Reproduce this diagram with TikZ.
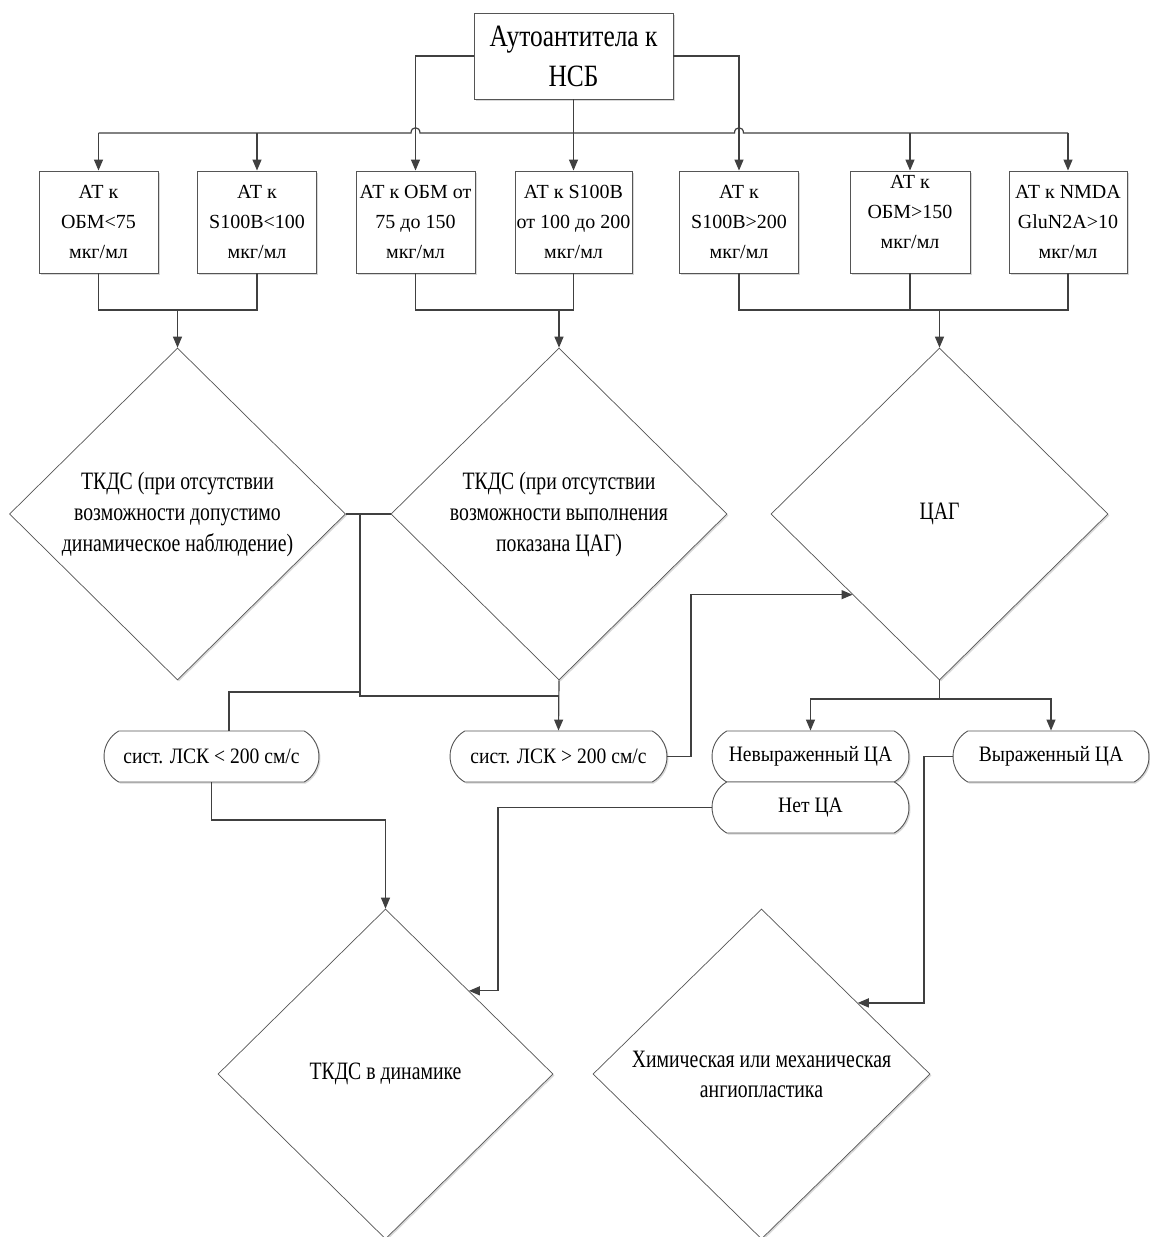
\documentclass[tikz,border=0pt]{standalone}
\usepackage{fontspec}
\setmainfont{Liberation Serif}
\newfontfamily\condA[FakeStretch=0.82]{Liberation Serif}
\newfontfamily\condB[FakeStretch=0.79]{Liberation Serif}
\newfontfamily\condC[FakeStretch=0.89]{Liberation Serif}
\usetikzlibrary{shapes.geometric,shapes.misc,arrows.meta,calc,shadows}
\definecolor{lc}{HTML}{404040}
\definecolor{bd}{HTML}{555555}
\begin{document}
\begin{tikzpicture}[x=1pt,y=-1pt,
  shd/.style={drop shadow={shadow xshift=1.5pt,shadow yshift=-1.5pt,opacity=0.25,fill=black!60}},
  abox/.style={draw=bd,line width=0.9pt,fill=white,rectangle,minimum width=119pt,minimum height=102pt,inner sep=0pt,align=center,font=\fontsize{20pt}{30pt}\selectfont,shd},
  dmd/.style={draw=bd,line width=0.7pt,fill=white,diamond,inner sep=0pt,align=center,font=\condB\fontsize{25pt}{31pt}\selectfont,shd},
  pill/.style={draw=bd,line width=0.9pt,fill=white,rounded rectangle,rounded rectangle arc length=120,minimum height=51pt,inner sep=0pt,font=\condC\fontsize{22pt}{26pt}\selectfont,shd},
  ln/.style={draw=lc,line width=1.2pt},
  conn/.style={ln,-{Triangle[length=11pt,width=9pt]}}]
\useasboundingbox[fill=white] (0,0) rectangle (1150,1237);

% nodes
\node[abox,minimum width=199pt,minimum height=86pt,font=\condA\fontsize{31pt}{40pt}\selectfont] (top) at (573.5,56) {Аутоантитела к\\НСБ};
\node[abox] (b1) at (98.5,222) {АТ к\\ОБМ<75\\мкг/мл};
\node[abox] (b2) at (257,222) {АТ к\\S100B<100\\мкг/мл};
\node[abox] (b3) at (415.5,222) {АТ к ОБМ от\\75 до 150\\мкг/мл};
\node[abox,minimum width=117pt] (b4) at (573.5,222) {АТ к S100B\\от 100 до 200\\мкг/мл};
\node[abox] (b5) at (739,222) {АТ к\\S100B>200\\мкг/мл};
\node[abox,minimum width=120pt] (b6) at (910,222) {};
\node[align=center,font=\fontsize{20pt}{30pt}\selectfont] (b6t) at (910,212) {АТ к\\ОБМ>150\\мкг/мл};
\node[abox,minimum width=118pt] (b7) at (1068,222) {АТ к NMDA\\GluN2A>10\\мкг/мл};

\node[dmd,minimum width=336pt,minimum height=332pt] (d1) at (177.5,514) {ТКДС (при отсутствии\\возможности допустимо\\динамическое наблюдение)};
\node[dmd,minimum width=336pt,minimum height=332pt] (d2) at (559,514) {ТКДС (при отсутствии\\возможности выполнения\\показана ЦАГ)};
\node[dmd,minimum width=337pt,minimum height=332pt] (d3) at (939.5,514) {ЦАГ};
\node[dmd,minimum width=335pt,minimum height=330pt,font=\condB\fontsize{25pt}{30pt}\selectfont] (d4) at (385.5,1074) {ТКДС в динамике};
\node[dmd,minimum width=337pt,minimum height=330pt,font=\condB\fontsize{25pt}{30pt}\selectfont] (d5) at (761.5,1074) {Химическая или механическая\\ангиопластика};

\node[pill,minimum width=215pt] (p1) at (211.5,756.5) {сист. ЛСК < 200 см/с};
\node[pill,minimum width=217pt] (p2) at (558.5,756.5) {сист. ЛСК > 200 см/с};
\node[pill,minimum width=197pt] (p3) at (810.5,756.5) {Невыраженный ЦА};
\node[pill,minimum width=196pt] (p4) at (1051,756.5) {Выраженный ЦА};
\node[pill,minimum width=197pt] (p5) at (810.5,807.5) {Нет ЦА};

% levels
\coordinate (bus) at (0,133);
\coordinate (lev1) at (0,310);
\coordinate (lev2) at (0,692);
\coordinate (lev2b) at (0,696);
\coordinate (lev3) at (0,699);
\coordinate (lev4) at (0,820);
\coordinate (x360) at (360,0);
\coordinate (x691) at (691,0);
\coordinate (x924) at (924,0);
\coordinate (x498) at (498,0);

% top connectors
\draw[conn] (top.west) -| (b3.north);
\draw[conn] (top.east) -| (b5.north);
\draw[conn] (top.south) -- (b4.north);
\draw[ln] (b1.north |- bus) -- ($(b3.north |- bus)+(-4.5,0)$) .. controls +(0,-7) and +(0,-7) .. ($(b3.north |- bus)+(4.5,0)$)
  -- ($(b5.north |- bus)+(-4.5,0)$) .. controls +(0,-7) and +(0,-7) .. ($(b5.north |- bus)+(4.5,0)$) -- (b7.north |- bus);
\draw[conn] (b1.north |- bus) -- (b1.north);
\draw[conn] (b2.north |- bus) -- (b2.north);
\draw[conn] (b6.north |- bus) -- (b6.north);
\draw[conn] (b7.north |- bus) -- (b7.north);

% boxes to diamonds
\draw[ln] (b1.south) |- (b2.south |- lev1) -- (b2.south);
\draw[conn] (d1.north |- lev1) -- (d1.north);
\draw[ln] (b3.south) |- (b4.south |- lev1) -- (b4.south);
\draw[conn] (d2.north |- lev1) -- (d2.north);
\draw[ln] (b5.south) |- (b7.south |- lev1) -- (b7.south);
\draw[ln] (b6.south) -- (b6.south |- lev1);
\draw[conn] (d3.north |- lev1) -- (d3.north);

% middle
\draw[ln] (d1.east) -- (d2.west);
\draw[ln] (x360 |- d1.east) -- (x360 |- lev2) -| ($(p1.north)+(17.5,0)$);
\draw[ln] (x360 |- lev2) -- (x360 |- lev2b) -- (d2.south |- lev2b);
\draw[conn] (d2.south) -- (p2.north);

\coordinate (e3) at ($(d3.west)!0.485!(d3.south)$);
\draw[conn] (p2.east) -| (x691 |- e3) -- (e3);

\draw[ln] (d3.south) -- (d3.south |- lev3);
\draw[conn] (d3.south |- lev3) -| (p3.north);
\draw[conn] (d3.south |- lev3) -| (p4.north);

\coordinate (e5) at ($(d5.north)!0.57!(d5.east)$);
\draw[conn] (p4.west) -| (x924 |- e5) -- (e5);

\coordinate (e4) at ($(d4.north)!0.497!(d4.east)$);
\draw[conn] (p5.west) -| (x498 |- e4) -- (e4);

\draw[conn] (p1.south) |- (d4.north |- lev4) -- (d4.north);
\end{tikzpicture}
\end{document}
